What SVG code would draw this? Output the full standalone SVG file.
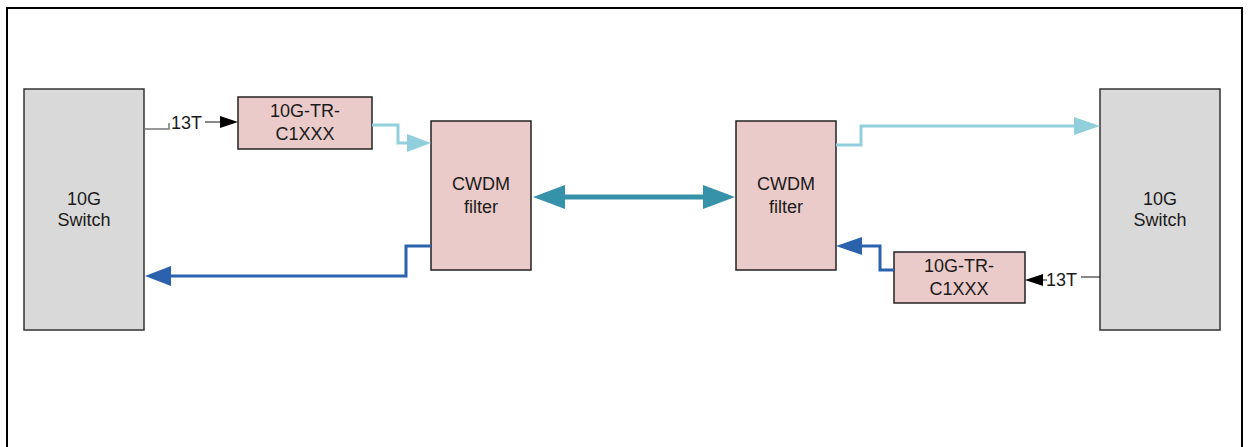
<svg xmlns="http://www.w3.org/2000/svg" width="1249" height="447" viewBox="0 0 1249 447">
  <style>
    .label { font-family: "Liberation Sans", Arial, sans-serif; font-size: 18px; fill: #1a1a1a; text-anchor: middle; }
    .small { font-family: "Liberation Sans", Arial, sans-serif; font-size: 18px; fill: #1a1a1a; }
    .switch { fill: #d9d9d9; stroke: #333; stroke-width: 1.5; }
    .pink { fill: #ebcbc9; stroke: #222; stroke-width: 1.5; }
    .lb { fill: none; stroke: #92cfdd; stroke-width: 3; }
    .db { fill: none; stroke: #2a62ad; stroke-width: 3; }
    .thin { fill: none; stroke: #111; stroke-width: 1; }
  </style>
  <rect width="1249" height="447" fill="#fff"/>
  <!-- outer frame -->
  <path d="M7 447 V8 H1242 V447" fill="none" stroke="#000" stroke-width="2"/>

  <g id="switch-left">
    <rect class="switch" x="24" y="89" width="120" height="241"/>
    <text class="label" x="84" y="205">10G</text>
    <text class="label" x="84" y="226">Switch</text>
  </g>
  <g id="switch-right">
    <rect class="switch" x="1100" y="89" width="120" height="241"/>
    <text class="label" x="1160" y="205">10G</text>
    <text class="label" x="1160" y="226">Switch</text>
  </g>
  <g id="trx-left">
    <rect class="pink" x="238" y="97" width="134" height="52"/>
    <text class="label" x="305" y="117">10G-TR-</text>
    <text class="label" x="305" y="140">C1XXX</text>
  </g>
  <g id="trx-right">
    <rect class="pink" x="894" y="252" width="131" height="51"/>
    <text class="label" x="959" y="272">10G-TR-</text>
    <text class="label" x="959" y="295">C1XXX</text>
  </g>
  <g id="cwdm-left">
    <rect class="pink" x="431" y="121" width="100" height="149"/>
    <text class="label" x="481" y="190">CWDM</text>
    <text class="label" x="481" y="213">filter</text>
  </g>
  <g id="cwdm-right">
    <rect class="pink" x="736" y="121" width="100" height="149"/>
    <text class="label" x="786" y="190">CWDM</text>
    <text class="label" x="786" y="213">filter</text>
  </g>

  <g id="connectors">
    <!-- left switch to left transceiver -->
    <path d="M144 129 H169 V123" fill="none" stroke="#777" stroke-width="1.5"/>
    <text class="small" x="171" y="129">13T</text>
    <path class="thin" d="M205 122 H222"/>
    <polygon points="238,122 220,116 220,128" fill="#000"/>

    <!-- left transceiver to left filter -->
    <path class="lb" d="M372 125 H398 V143 H410"/>
    <polygon points="431,143 407,134 407,152" fill="#92cfdd"/>

    <!-- left filter to left switch -->
    <path class="db" d="M431 246 H406 V276 H168"/>
    <polygon points="145,276 171,266 171,286" fill="#2a62ad"/>

    <!-- trunk between filters -->
    <path d="M560 197 H710" fill="none" stroke="#3592a8" stroke-width="5"/>
    <polygon points="533,197 565,185 565,209" fill="#3592a8"/>
    <polygon points="735,197 703,185 703,209" fill="#3592a8"/>

    <!-- right filter to right switch -->
    <path class="lb" d="M836 145 H861 V126 H1078"/>
    <polygon points="1100,126 1074,117 1074,135" fill="#92cfdd"/>

    <!-- right transceiver to right filter -->
    <path class="db" d="M894 270 H880 V246 H858"/>
    <polygon points="836,246 862,237 862,255" fill="#2a62ad"/>

    <!-- right switch to right transceiver -->
    <path class="thin" d="M1100 277 H1081"/>
    <path class="thin" d="M1041 280 H1047"/>
    <text class="small" x="1046" y="286">13T</text>
    <polygon points="1025,280 1043,274 1043,286" fill="#000"/>
  </g>
</svg>
